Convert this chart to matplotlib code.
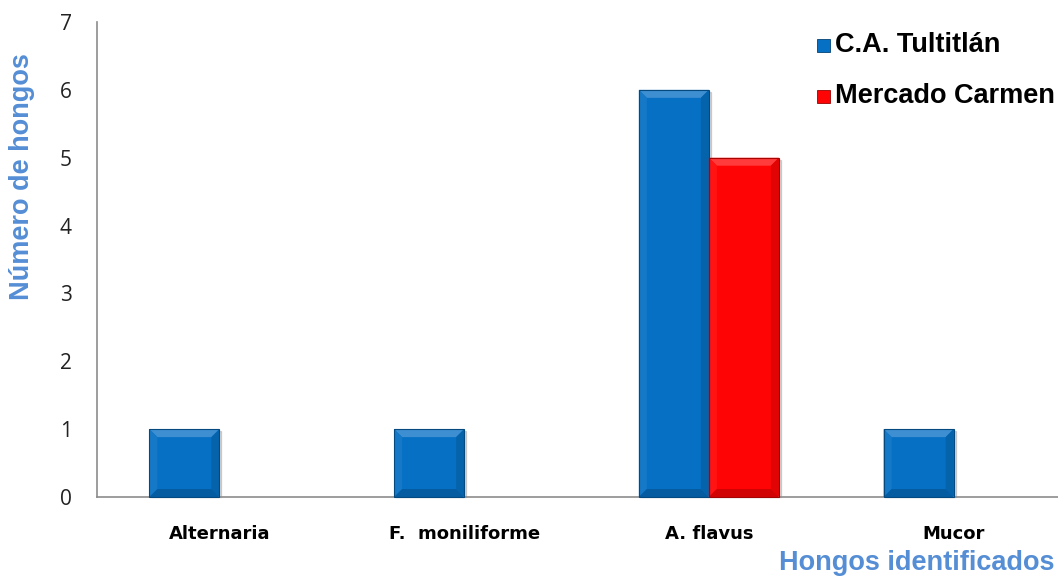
import matplotlib
matplotlib.use("Agg")
import matplotlib.pyplot as plt
import numpy as np
from matplotlib.patches import Polygon, Rectangle
from matplotlib.transforms import IdentityTransform
from matplotlib.colors import to_rgb

categories = ["Alternaria", "F.  moniliforme", "A. flavus", "Mucor"]
tultitlan = [1, 1, 6, 1]
carmen = [0, 0, 5, 0]
series_names = ["C.A. Tultitlán", "Mercado Carmen"]
yticks = [0, 1, 2, 3, 4, 5, 6, 7]

blue = "#0670C4"
red = "#FF0404"


def shade(c, f):
    r = np.array(to_rgb(c))
    if f > 0:
        return tuple(r + (1 - r) * f)
    return tuple(r * (1 + f))


fig = plt.figure(figsize=(10.58, 5.77), dpi=100)
ax = fig.add_axes([97 / 1058, 80 / 577, 979 / 1058, 475 / 577])

x = np.arange(len(categories))
w = 0.286
b1 = ax.bar(x - w / 2, tultitlan, w, color=blue, zorder=2)
b2 = ax.bar(x + w / 2, carmen, w, color=red, zorder=2)

ax.set_xlim(-0.5, len(categories) - 0.5)
ax.set_ylim(0, 7)
ax.set_yticks(yticks)
ax.set_xticks(x)
ax.set_xticklabels(categories, fontsize=13, fontweight="bold",
                   family="DejaVu Sans")
for t in ax.get_yticklabels():
    t.set_family("Open Sans")
    t.set_fontsize(15)
    t.set_color("#222222")
ax.tick_params(axis="y", length=0, pad=18)
ax.tick_params(axis="x", length=0, pad=20)
for s in ["top", "right"]:
    ax.spines[s].set_visible(False)
for s in ["left", "bottom"]:
    ax.spines[s].set_color("#8c8c8c")
    ax.spines[s].set_linewidth(1.2)

# bevelled look on each bar, drawn in pixel space
bev = 8
for bars, col in [(b1, blue), (b2, red)]:
    for p in bars:
        if p.get_height() <= 0:
            p.set_visible(False)
            continue
        (x0, y0), (x1, y1) = ax.transData.transform(
            [(p.get_x(), 0), (p.get_x() + p.get_width(), p.get_height())])
        # soft shadow
        ax.add_patch(Rectangle((x0 + 2, y0), x1 - x0, y1 - y0 - 2,
                               transform=IdentityTransform(),
                               color=(0, 0, 0, 0.15), zorder=1, clip_on=False))
        faces = [
            ([(x0, y1), (x1, y1), (x1 - bev, y1 - bev), (x0 + bev, y1 - bev)], shade(col, 0.22)),
            ([(x0, y0), (x0, y1), (x0 + bev, y1 - bev), (x0 + bev, y0 + bev)], shade(col, 0.06)),
            ([(x1, y0), (x1, y1), (x1 - bev, y1 - bev), (x1 - bev, y0 + bev)], shade(col, -0.12)),
            ([(x0, y0), (x1, y0), (x1 - bev, y0 + bev), (x0 + bev, y0 + bev)], shade(col, -0.18)),
        ]
        for pts, fc in faces:
            ax.add_patch(Polygon(pts, closed=True, transform=IdentityTransform(),
                                 facecolor=fc, edgecolor="none", zorder=3,
                                 clip_on=False))
        ax.add_patch(Rectangle((x0, y0), x1 - x0, y1 - y0,
                               transform=IdentityTransform(), fill=False,
                               edgecolor=shade(col, -0.35), lw=0.8, zorder=4,
                               clip_on=False))

# legend
for i, (name, col) in enumerate(zip(series_names, [blue, red])):
    yy = 1 - (45 + 51 * i) / 577
    fig.patches.append(Rectangle((817 / 1058, yy - 7 / 577), 13 / 1058, 13 / 577,
                                 transform=fig.transFigure, facecolor=col,
                                 edgecolor=shade(col, -0.4), lw=0.6))
    fig.text(835 / 1058, yy, name, fontsize=19.5, fontweight="bold",
             family="Liberation Sans", va="center", ha="left", color="black")

fig.text(917 / 1058, 1 - 563 / 577, "Hongos identificados", fontsize=19.5,
         fontweight="bold", family="Liberation Sans", color="#558ED5",
         ha="center", va="center")
fig.text(22 / 1058, 1 - 177 / 577, "Número de hongos", fontsize=19.5,
         fontweight="bold", family="Liberation Sans", color="#558ED5",
         ha="center", va="center", rotation=90)

fig.savefig("out.png", dpi=100)
